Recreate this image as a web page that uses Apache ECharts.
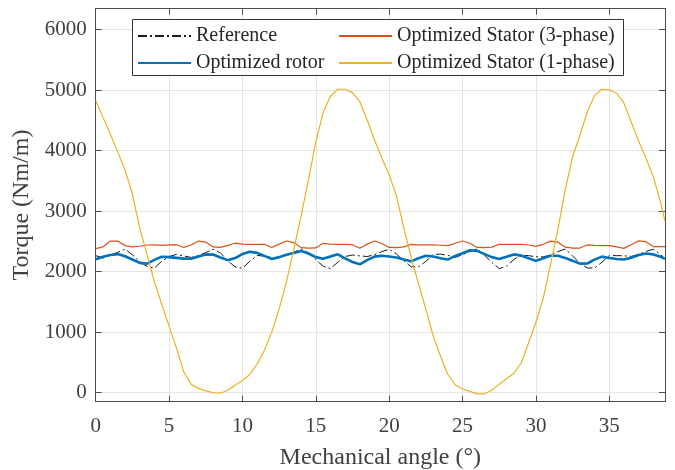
<!DOCTYPE html>
<html><head><meta charset="utf-8">
<script src="https://cdn.jsdelivr.net/npm/echarts@6/dist/echarts.min.js"></script>
<style>html,body{margin:0;padding:0;background:#fff}#c{width:675px;height:470px}</style>
</head><body><div id="c"></div>
<script>
const angles = [0,0.5,1,1.5,2,2.5,3,3.5,4,4.5,5,5.5,6,6.5,7,7.5,8,8.5,9,9.5,
10,10.5,11,11.5,12,12.5,13,13.5,14,14.5,15,15.5,16,16.5,17,17.5,18,18.5,19,19.5,
20,20.5,21,21.5,22,22.5,23,23.5,24,24.5,25,25.5,26,26.5,27,27.5,28,28.5,29,29.5,
30,30.5,31,31.5,32,32.5,33,33.5,34,34.5,35,35.5,36,36.5,37,37.5,38,38.5,38.8];
const reference = [2265,2225,2270,2320,2370,2280,2160,2085,2060,2170,
2250,2285,2260,2235,2265,2315,2370,2310,2180,2080,
2055,2170,2270,2255,2235,2230,2280,2320,2375,2310,
2200,2090,2050,2155,2250,2275,2260,2250,2280,2330,
2370,2290,2180,2080,2080,2170,2280,2290,2270,2235,
2280,2330,2375,2270,2150,2050,2090,2200,2275,2265,
2245,2245,2275,2330,2375,2260,2140,2060,2060,2155,
2265,2265,2262,2252,2285,2335,2370,2280,2215];
const rotor = [2205,2245,2275,2290,2255,2200,2145,2132,2195,2245,
2240,2228,2215,2215,2250,2285,2282,2235,2190,2225,
2290,2330,2310,2260,2210,2240,2280,2310,2342,2300,
2240,2212,2250,2287,2220,2160,2122,2190,2248,2262,
2250,2235,2200,2170,2222,2262,2250,2220,2200,2260,
2305,2353,2343,2290,2240,2210,2245,2285,2265,2220,
2178,2222,2262,2262,2225,2180,2132,2135,2198,2248,
2225,2208,2200,2228,2275,2300,2285,2245,2212];
const stator3 = [2380,2410,2505,2505,2430,2408,2420,2440,2442,2435,
2442,2445,2400,2440,2505,2488,2408,2400,2435,2470,
2455,2452,2452,2452,2400,2455,2507,2480,2397,2390,
2392,2468,2455,2452,2452,2445,2388,2455,2507,2465,
2400,2397,2410,2450,2442,2441,2441,2436,2430,2470,
2507,2469,2400,2397,2405,2452,2452,2452,2452,2440,
2418,2452,2505,2487,2405,2390,2390,2441,2435,2430,
2430,2410,2385,2445,2507,2495,2415,2414,2414];
const stator1 = [4830,4550,4270,3980,3680,3280,2720,2280,1830,1460,
1100,740,340,140,70,30,0,-10,40,120,
200,300,470,700,1000,1380,1830,2370,2920,3520,
4140,4630,4900,5015,5015,4960,4810,4510,4180,3880,
3600,3250,2720,2240,1800,1380,940,600,300,130,
60,20,-20,-20,40,140,230,320,490,820,
1160,1560,2120,2700,3350,3900,4250,4640,4910,5015,
5005,4950,4790,4470,4160,3880,3570,3150,2830];
const xTicks = [0,5,10,15,20,25,30,35];
const yTicks = [0,1000,2000,3000,4000,5000,6000];
const names = ['Reference','Optimized rotor','Optimized Stator (3-phase)','Optimized Stator (1-phase)'];

const FF = "'Liberation Serif','Times New Roman',serif";
const AX = '#4d4d4d', TX = '#404040', GR = '#e4e4e4';
const pairs = arr => angles.map((a, i) => [a, arr[i]]);
const plain = v => String(v);

function xAx(pos, main) {
  return {
    type: 'value', position: pos, min: 0, max: 38.8,
    axisLine: {show: true, onZero: false, lineStyle: {color: AX, width: 1}},
    axisTick: {show: true, inside: true, length: 6, customValues: xTicks, lineStyle: {color: AX}},
    axisLabel: {show: main, customValues: xTicks, formatter: plain, fontSize: 21, color: TX, fontFamily: FF, margin: 14},
    splitLine: {show: main, lineStyle: {color: GR, width: 1}},
    name: main ? 'Mechanical angle (°)' : '', nameLocation: 'middle', nameGap: 44,
    nameTextStyle: {fontSize: 24, color: TX, fontFamily: FF}
  };
}
function yAx(pos, main) {
  return {
    type: 'value', position: pos, min: -150, max: 6350,
    axisLine: {show: true, onZero: false, lineStyle: {color: AX, width: 1}},
    axisTick: {show: true, inside: true, length: 6, customValues: yTicks, lineStyle: {color: AX}},
    axisLabel: {show: main, customValues: yTicks, formatter: plain, fontSize: 21, color: TX, fontFamily: FF, margin: 9},
    splitLine: {show: main, lineStyle: {color: GR, width: 1}},
    name: main ? 'Torque (Nm/m)' : '', nameLocation: 'middle', nameGap: 48, nameRotate: 90,
    nameTextStyle: {fontSize: 24, color: TX, fontFamily: FF}
  };
}

const legendBase = {orient: 'vertical', top: 25, padding: 0, itemGap: 5, itemWidth: 53, itemHeight: 14, z: 20,
  itemStyle: {opacity: 0},
  textStyle: {fontSize: 20, lineHeight: 22, color: '#262626', fontFamily: FF}};

const chart = echarts.init(document.getElementById('c'), null, {renderer: 'canvas'});
chart.setOption({
  animation: false,
  backgroundColor: '#fff',
  grid: {left: 95.7, top: 8.5, right: 10, bottom: 68.3, containLabel: false, outerBoundsMode: 'none'},
  xAxis: [xAx('bottom', true), xAx('top', false)],
  yAxis: [yAx('left', true), yAx('right', false)],
  graphic: {elements: [{type: 'rect', z: 10, shape: {x: 132.5, y: 19.5, width: 491, height: 56},
    style: {fill: '#fff', stroke: '#333', lineWidth: 1}}]},
  legend: [
    Object.assign({}, legendBase, {data: [names[0], names[1]], left: 137}),
    Object.assign({}, legendBase, {data: [names[2], names[3]], left: 338})
  ],
  series: [
    {name: names[0], type: 'line', symbol: 'none', data: pairs(reference),
     lineStyle: {color: '#1a1a1a', width: 1, type: [9, 3, 2, 3]}, itemStyle: {color: '#1a1a1a'}},
    {name: names[1], type: 'line', symbol: 'none', data: pairs(rotor),
     lineStyle: {color: '#0072BD', width: 2.6}, itemStyle: {color: '#0072BD'}},
    {name: names[2], type: 'line', symbol: 'none', data: pairs(stator3),
     lineStyle: {color: '#D95319', width: 1.2}, itemStyle: {color: '#D95319'}},
    {name: names[3], type: 'line', symbol: 'none', data: pairs(stator1),
     lineStyle: {color: '#EDB120', width: 1.2}, itemStyle: {color: '#EDB120'}}
  ]
});
</script></body></html>
